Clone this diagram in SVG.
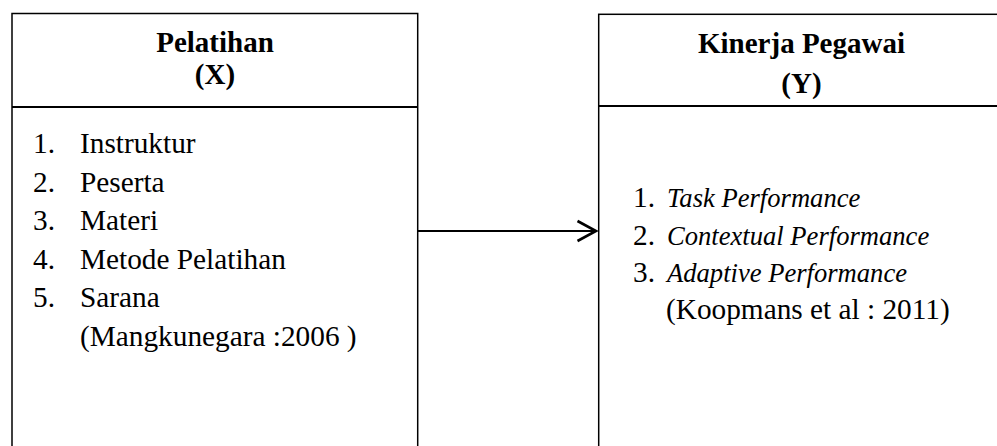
<svg xmlns="http://www.w3.org/2000/svg" width="997" height="446" viewBox="0 0 997 446">
<style>
.box{fill:#fff;stroke:#000;stroke-width:1.5}
.div{stroke:#000;stroke-width:2}
.hd{font-family:"Liberation Serif","Times New Roman",serif;font-weight:bold;font-size:29px;fill:#000;text-anchor:middle}
.tx{font-family:"Liberation Serif","Times New Roman",serif;font-size:29.3px;fill:#000}
.it{font-style:italic;font-size:26.6px}
.conn{stroke:#000;stroke-width:2;fill:none}
</style>
<defs>
<marker id="arr" markerUnits="userSpaceOnUse" markerWidth="26" markerHeight="26" refX="21" refY="13" orient="auto">
<path d="M2.5,3 L21,13 L2.5,23" fill="none" stroke="#000" stroke-width="2.6"/>
</marker>
</defs>
<rect width="997" height="446" fill="#fff"/>
<g id="node-x">
<rect class="box" x="12" y="13.5" width="405.7" height="460"/>
<line class="div" x1="12" y1="107" x2="417.7" y2="107"/>
<text class="hd" x="215" y="52">Pelatihan</text>
<text class="hd" x="215" y="83.5">(X)</text>
<text class="tx" x="33" y="153.3">1.</text><text class="tx" x="80" y="153.3">Instruktur</text>
<text class="tx" x="33" y="191.8">2.</text><text class="tx" x="80" y="191.8">Peserta</text>
<text class="tx" x="33" y="230.3">3.</text><text class="tx" x="80" y="230.3">Materi</text>
<text class="tx" x="33" y="268.8">4.</text><text class="tx" x="80" y="268.8">Metode Pelatihan</text>
<text class="tx" x="33" y="307.3">5.</text><text class="tx" x="80" y="307.3">Sarana</text>
<text class="tx" x="80" y="345.8">(Mangkunegara :2006 )</text>
</g>
<g id="node-y">
<rect class="box" x="598.7" y="14.3" width="405" height="460"/>
<line class="div" x1="598.7" y1="106" x2="1004" y2="106"/>
<text class="hd" x="801.5" y="53.3">Kinerja Pegawai</text>
<text class="hd" x="801.5" y="93.3">(Y)</text>
<text class="tx" x="633" y="207">1.</text><text class="tx it" x="667" y="207">Task Performance</text>
<text class="tx" x="633" y="244.5">2.</text><text class="tx it" x="667" y="244.5">Contextual Performance</text>
<text class="tx" x="633" y="282">3.</text><text class="tx it" x="667" y="282">Adaptive Performance</text>
<text class="tx" x="666" y="319">(Koopmans et al : 2011)</text>
</g>
<g id="connectors">
<line class="conn" x1="418" y1="231" x2="596" y2="231" marker-end="url(#arr)"/>
</g>
</svg>
